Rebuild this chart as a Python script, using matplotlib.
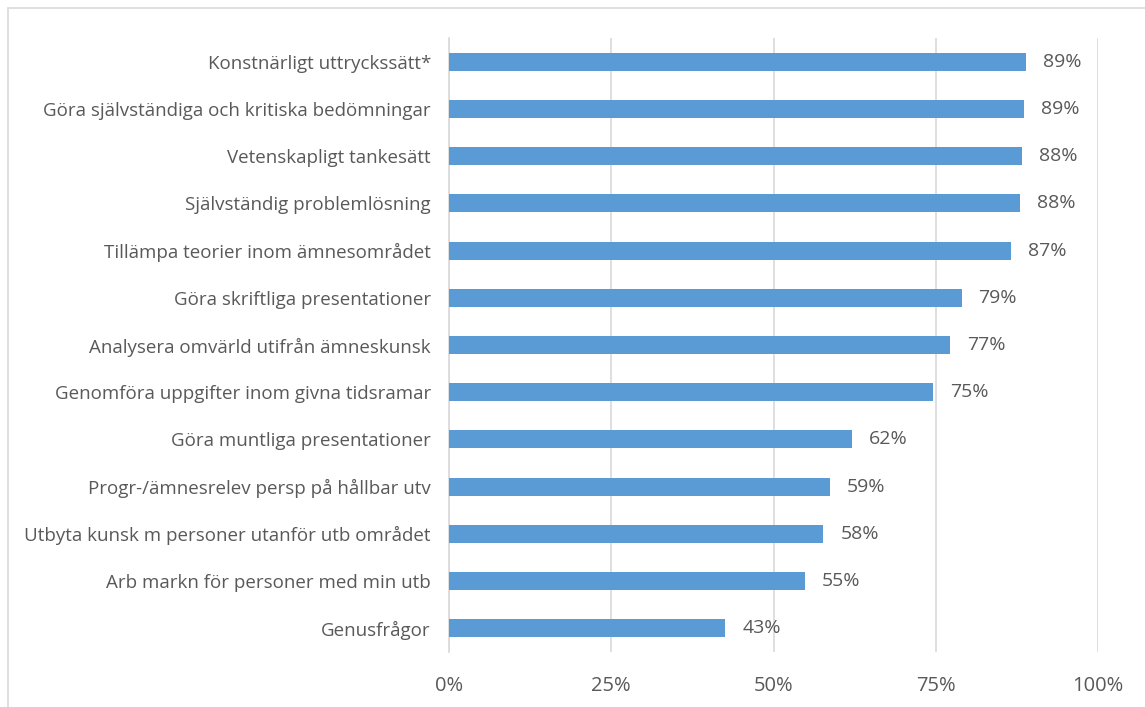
import matplotlib.pyplot as plt
from matplotlib.patches import Rectangle

categories = [
    "Konstnärligt uttryckssätt*",
    "Göra självständiga och kritiska bedömningar",
    "Vetenskapligt tankesätt",
    "Självständig problemlösning",
    "Tillämpa teorier inom ämnesområdet",
    "Göra skriftliga presentationer",
    "Analysera omvärld utifrån ämneskunsk",
    "Genomföra uppgifter inom givna tidsramar",
    "Göra muntliga presentationer",
    "Progr-/ämnesrelev persp på hållbar utv",
    "Utbyta kunsk m personer utanför utb området",
    "Arb markn för personer med min utb",
    "Genusfrågor",
]
values = [0.889, 0.886, 0.883, 0.880, 0.866, 0.790, 0.772, 0.746, 0.621, 0.587, 0.577, 0.549, 0.426]
xticks = [0, 0.25, 0.5, 0.75, 1.0]
xticklabels = ["0%", "25%", "50%", "75%", "100%"]

plt.rcParams['font.family'] = ['Open Sans', 'DejaVu Sans']
txt = '#595959'

fig = plt.figure(figsize=(11.45, 7.07), dpi=100)
W, H = 1145, 707
ax = fig.add_axes([449 / W, 1 - 652 / H, (1098 - 449) / W, (652 - 38) / H])

# chart area border
fig.patches.append(Rectangle((8 / W, -0.1), 1.2, (1 - 8 / H) + 0.1, transform=fig.transFigure,
                             fill=False, edgecolor='#D9D9D9', linewidth=1.2))

y = list(range(len(categories)))
ax.barh(y, values, height=0.38, color='#5B9BD5', zorder=3)
for yi, v in zip(y, values):
    ax.text(v + 0.026, yi, f"{round(v * 100):.0f}%", va='center', ha='left',
            fontsize=14, color=txt)

ax.set_ylim(len(categories) - 0.5, -0.5)
ax.set_xlim(0, 1)
ax.set_yticks(y)
ax.set_yticklabels(categories, fontsize=13.5, color=txt)
ax.set_xticks(xticks)
ax.set_xticklabels(xticklabels, fontsize=14.5, color=txt)
ax.tick_params(length=0)
ax.tick_params(axis='y', pad=13)
ax.tick_params(axis='x', pad=17)
ax.grid(axis='x', color='#D9D9D9', linewidth=1.2, zorder=0)
for s in ['top', 'right', 'bottom']:
    ax.spines[s].set_visible(False)
ax.spines['left'].set_color('#D9D9D9')
ax.spines['left'].set_linewidth(1.2)

fig.savefig('out.png', dpi=100)
